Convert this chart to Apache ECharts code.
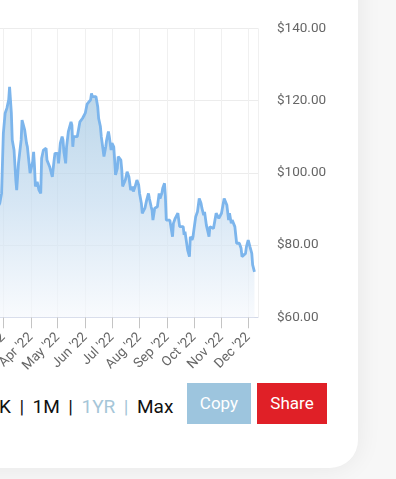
<!DOCTYPE html>
<html><head><meta charset="utf-8">
<script src="https://cdn.jsdelivr.net/npm/echarts@6/dist/echarts.min.js"></script>
<style>
html,body{margin:0;padding:0;width:396px;height:479px;overflow:hidden;background:#f7f7f7;font-family:Roboto,sans-serif;}
#card{position:absolute;left:-400px;top:-60px;width:758px;height:528px;background:#fff;border-radius:28px;box-shadow:0 0 26px rgba(0,0,0,0.07);}
#chart{position:absolute;left:-100px;top:0;width:460px;height:380px;}
#ranges{position:absolute;top:394px;right:222.7px;display:flex;gap:8.5px;font-size:19px;line-height:26px;color:#111;white-space:nowrap;}
#ranges .sel{color:#a6c6d8;}
.btn{position:absolute;top:383px;height:41px;color:#fff;font-size:17px;line-height:41px;text-align:center;}
#copy{left:187px;width:64px;background:#9dc5de;}
#share{left:257px;width:70px;background:#e02027;}
</style></head>
<body>
<div id="card"></div>
<div id="chart"></div>
<div id="ranges"><span>1D</span><span>|</span><span>1WK</span><span>|</span><span>1M</span><span>|</span><span class="sel">1YR</span><span class="sel">|</span><span>Max</span></div>
<div class="btn" id="copy">Copy</div>
<div class="btn" id="share">Share</div>
<script>
const xRange = ['2021-12-12', '2022-12-12'];
const yMin = 60, yMax = 140, yStep = 20;
const dates = [
'2022-02-22','2022-02-25','2022-02-27','2022-03-01','2022-03-03','2022-03-05','2022-03-07','2022-03-08','2022-03-10','2022-03-11',
'2022-03-12','2022-03-13','2022-03-15','2022-03-16','2022-03-18','2022-03-21','2022-03-22','2022-03-23','2022-03-25','2022-03-27',
'2022-03-28','2022-03-30','2022-03-31','2022-04-01','2022-04-03','2022-04-04','2022-04-05','2022-04-06','2022-04-08','2022-04-09',
'2022-04-10','2022-04-12','2022-04-13','2022-04-15','2022-04-18','2022-04-19','2022-04-21','2022-04-22','2022-04-25','2022-04-27',
'2022-04-28','2022-05-01','2022-05-02','2022-05-04','2022-05-06','2022-05-07','2022-05-08','2022-05-10','2022-05-11','2022-05-13',
'2022-05-16','2022-05-17','2022-05-18','2022-05-19','2022-05-21','2022-05-23','2022-05-25','2022-05-26','2022-05-29','2022-05-31',
'2022-06-01','2022-06-03','2022-06-05','2022-06-07','2022-06-08','2022-06-09','2022-06-11','2022-06-13','2022-06-15','2022-06-16',
'2022-06-18','2022-06-19','2022-06-21','2022-06-22','2022-06-24','2022-06-25','2022-06-27','2022-06-28','2022-06-30','2022-07-01',
'2022-07-03','2022-07-04','2022-07-05','2022-07-07','2022-07-08','2022-07-09','2022-07-11','2022-07-12','2022-07-13','2022-07-15',
'2022-07-16','2022-07-18','2022-07-19','2022-07-20','2022-07-22','2022-07-24','2022-07-25','2022-07-27','2022-07-29','2022-07-31',
'2022-08-01','2022-08-03','2022-08-04','2022-08-05','2022-08-07','2022-08-09','2022-08-11','2022-08-12','2022-08-14','2022-08-15',
'2022-08-16','2022-08-18','2022-08-19','2022-08-21','2022-08-23','2022-08-24','2022-08-26','2022-08-27','2022-08-29','2022-08-30',
'2022-08-31','2022-09-02','2022-09-04','2022-09-06','2022-09-07','2022-09-08','2022-09-10','2022-09-12','2022-09-13','2022-09-14',
'2022-09-15','2022-09-17','2022-09-19','2022-09-20','2022-09-21','2022-09-23','2022-09-24','2022-09-26','2022-09-27','2022-09-29',
'2022-09-30','2022-10-01','2022-10-03','2022-10-05','2022-10-07','2022-10-09','2022-10-10','2022-10-12','2022-10-13','2022-10-15',
'2022-10-16','2022-10-18','2022-10-19','2022-10-21','2022-10-23','2022-10-25','2022-10-26','2022-10-28','2022-10-29','2022-10-30',
'2022-11-01','2022-11-02','2022-11-04','2022-11-06','2022-11-07','2022-11-09','2022-11-10','2022-11-12','2022-11-13','2022-11-15',
'2022-11-16','2022-11-18','2022-11-20','2022-11-21','2022-11-23','2022-11-24','2022-11-26','2022-11-28','2022-11-29','2022-12-01',
'2022-12-03','2022-12-05','2022-12-06','2022-12-08'
];
const prices = [
90.0,91.6,94.3,110.9,116.5,117.9,120.2,123.8,116.5,109.1,
108.6,106.3,98.0,95.2,102.6,109.1,114.6,113.7,111.8,108.2,
107.2,107.7,99.9,99.4,103.1,105.8,101.7,96.2,97.5,98.0,
95.2,94.3,104.0,106.3,106.8,103.5,104.0,101.7,98.9,103.5,
105.4,105.4,102.6,108.2,110.0,109.1,105.8,102.6,107.2,111.4,
114.1,113.2,107.2,110.0,110.5,110.0,109.5,114.1,115.1,115.1,
116.5,119.0,119.0,120.2,122.0,121.1,121.5,121.1,118.3,115.1,
112.8,110.0,109.5,104.5,107.2,109.1,111.4,110.0,106.3,108.2,
107.2,103.5,99.4,101.2,104.5,104.5,103.5,100.8,96.2,95.7,
98.0,100.3,100.8,98.9,95.2,96.2,94.8,96.2,98.0,96.6,
94.3,91.6,88.8,89.2,90.2,92.5,94.3,92.9,90.6,89.7,
86.9,90.2,90.6,90.6,94.3,92.9,94.3,95.7,97.1,93.4,
86.9,86.9,86.9,86.9,82.3,86.0,87.4,87.8,88.8,86.9,
85.1,85.5,85.1,82.8,83.7,83.3,78.6,76.8,82.3,81.4,
82.3,84.2,87.8,89.2,92.9,91.6,90.2,88.3,89.2,85.5,
85.1,82.3,85.1,85.1,84.6,85.1,88.8,89.2,87.4,86.9,
88.8,90.2,92.9,92.5,91.1,86.9,88.8,86.0,86.9,86.5,
85.1,80.5,80.5,80.5,79.1,76.8,77.2,77.7,79.5,81.4,
79.5,77.7,74.5,72.6
];
const chart = echarts.init(document.getElementById('chart'), null, {renderer: 'canvas'});
chart.setOption({
  animation: false,
  grid: {left: 33, right: 102, top: 28.3, bottom: 62.7, containLabel: false},
  xAxis: {
    type: 'time', min: xRange[0], max: xRange[1], splitNumber: 12,
    minInterval: 28 * 864e5, maxInterval: 31 * 864e5,
    axisLine: {lineStyle: {color: '#d3d9e8', width: 1}},
    axisTick: {show: true, length: 11, lineStyle: {color: '#c4c4c4'}},
    splitLine: {show: true, lineStyle: {color: '#f0f0f0'}},
    axisLabel: {rotate: 45, formatter: "{MMM} '{yy}", color: '#666', fontSize: 13.5, fontFamily: 'Roboto',
      margin: 18, showMinLabel: false, showMaxLabel: false, hideOverlap: false}
  },
  yAxis: {
    type: 'value', position: 'right', min: yMin, max: yMax, interval: yStep,
    axisLine: {show: false}, axisTick: {show: false},
    splitLine: {lineStyle: {color: '#ececec'}},
    axisLabel: {margin: 19, color: '#666', fontSize: 13.5, fontFamily: 'Roboto', padding: [4, 0, 0, 0],
      formatter: v => '$' + v.toFixed(2)}
  },
  series: [{
    type: 'line', data: dates.map((d, i) => [d, prices[i]]), showSymbol: false, symbol: 'none',
    lineStyle: {color: '#7cb5ec', width: 2.8},
    areaStyle: {color: new echarts.graphic.LinearGradient(0, 0, 0, 1, [
      {offset: 0, color: '#9ec4df'}, {offset: 0.5, color: '#c4dbef'}, {offset: 1, color: '#f5f8fc'}])}
  }]
});
</script>
</body></html>
